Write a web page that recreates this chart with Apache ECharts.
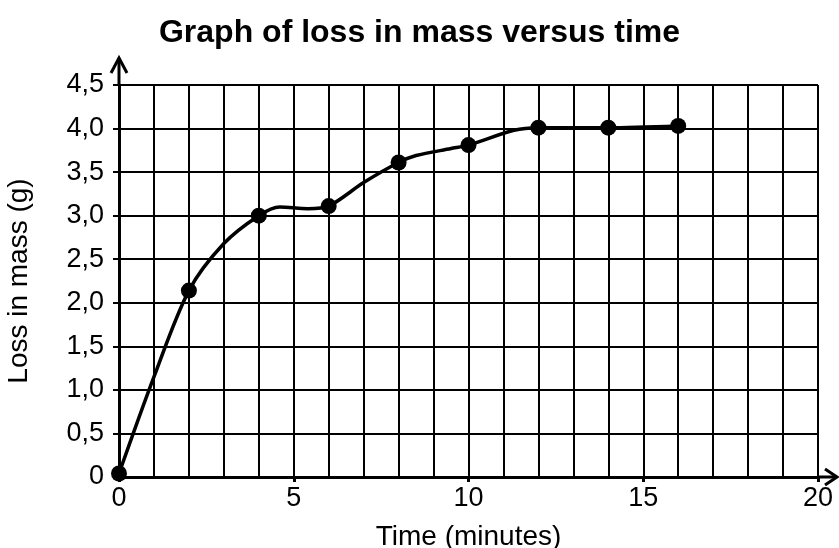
<!DOCTYPE html>
<html>
<head>
<meta charset="utf-8">
<script src="https://cdn.jsdelivr.net/npm/echarts@6/dist/echarts.min.js"></script>
<style>html,body{margin:0;padding:0;background:#fff}#c{width:839px;height:548px}</style>
</head>
<body>
<div id="c"></div>
<script>
// Measured points (time in minutes, loss in mass in g)
var timeValues = [0, 2, 4, 6, 8, 10, 12, 14, 16];
var lossValues = [0.04, 2.14, 3.0, 3.11, 3.61, 3.81, 4.01, 4.01, 4.03];
// Hand-drawn curve
var curveTime = [0, 1, 2, 3, 4, 4.6, 5.4, 6, 7, 8, 8.5, 9.5, 10, 11.3, 12, 14, 16];
var curveLoss = [0.04, 1.15, 2.14, 2.68, 3.0, 3.1, 3.08, 3.11, 3.38, 3.61, 3.69, 3.77, 3.81, 3.98, 4.01, 4.01, 4.03];
var xLabels = ['0', '5', '10', '15', '20'];
var yLabels = ['0', '0,5', '1,0', '1,5', '2,0', '2,5', '3,0', '3,5', '4,0', '4,5'];

var FONT = 'Liberation Sans, Arial, sans-serif';
var chart = echarts.init(document.getElementById('c'), null, {renderer: 'canvas'});

var curveData = curveTime.map(function (t, i) { return [t, curveLoss[i]]; });
var pointData = timeValues.map(function (t, i) { return [t, lossValues[i]]; });

var option = {
  animation: false,
  backgroundColor: '#fff',
  title: {
    text: 'Graph of loss in mass versus time',
    left: 'center', top: 12,
    textStyle: {fontFamily: FONT, fontSize: 32, fontWeight: 'bold', color: '#000'}
  },
  grid: {left: 119, right: 21, top: 85, bottom: 71, containLabel: false, outerBoundsMode: 'none'},
  xAxis: [{
    type: 'value', min: 0, max: 20, interval: 1,
    axisLine: {show: false},
    axisTick: {show: false},
    axisLabel: {show: false},
    splitLine: {show: true, lineStyle: {color: '#000', width: 2}}
  }, {
    type: 'value', min: 0, max: 20, interval: 5, position: 'bottom',
    name: 'Time (minutes)', nameLocation: 'middle', nameGap: 46,
    nameTextStyle: {fontFamily: FONT, fontSize: 28, color: '#000'},
    axisLine: {show: true, onZero: false, lineStyle: {color: '#000', width: 3}},
    axisTick: {show: true, length: 5, inside: false, lineStyle: {color: '#000', width: 3}},
    axisLabel: {fontFamily: FONT, fontSize: 27, color: '#000', margin: 8,
      formatter: function (v) { return xLabels[Math.round(v / 5)]; }},
    splitLine: {show: false}
  }],
  yAxis: {
    type: 'value', min: 0, max: 4.5, interval: 0.5,
    name: 'Loss in mass (g)', nameLocation: 'middle', nameGap: 86,
    nameTextStyle: {fontFamily: FONT, fontSize: 28, color: '#000'},
    axisLine: {show: true, onZero: false, lineStyle: {color: '#000', width: 3}},
    axisTick: {show: true, length: 6, lineStyle: {color: '#000', width: 2}},
    axisLabel: {fontFamily: FONT, fontSize: 27, color: '#000', margin: 15,
      formatter: function (v) { return yLabels[Math.round(v * 2)]; }},
    splitLine: {show: true, lineStyle: {color: '#000', width: 2}}
  },
  series: [{
    type: 'line', xAxisIndex: 0, data: curveData, smooth: 0.3,
    showSymbol: false, symbol: 'none',
    lineStyle: {color: '#000', width: 3.5}, z: 3
  }, {
    type: 'scatter', xAxisIndex: 0, data: pointData, symbol: 'circle', symbolSize: 16,
    itemStyle: {color: '#000', opacity: 1}, z: 4
  }]
};
chart.setOption(option);

// Arrow heads at the ends of the axes, placed through the library's scales
var o = chart.convertToPixel({gridIndex: 0}, [0, 0]);
var yTop = chart.convertToPixel({gridIndex: 0}, [0, 4.5]);
var xEnd = chart.convertToPixel({gridIndex: 0}, [20, 0]);
var arrowStyle = {stroke: '#000', lineWidth: 3, fill: null};
chart.setOption({
  graphic: [
    {type: 'polyline', shape: {points: [[o[0], yTop[1]], [o[0], yTop[1] - 27]]}, style: arrowStyle, z: 10},
    {type: 'polyline', shape: {points: [[o[0] - 8, yTop[1] - 12], [o[0], yTop[1] - 27], [o[0] + 8, yTop[1] - 12]]}, style: arrowStyle, z: 10},
    {type: 'polyline', shape: {points: [[xEnd[0], o[1]], [xEnd[0] + 19, o[1]]]}, style: arrowStyle, z: 10},
    {type: 'polyline', shape: {points: [[xEnd[0] + 7, o[1] - 8], [xEnd[0] + 19, o[1]], [xEnd[0] + 7, o[1] + 8]]}, style: arrowStyle, z: 10}
  ]
});
</script>
</body>
</html>
